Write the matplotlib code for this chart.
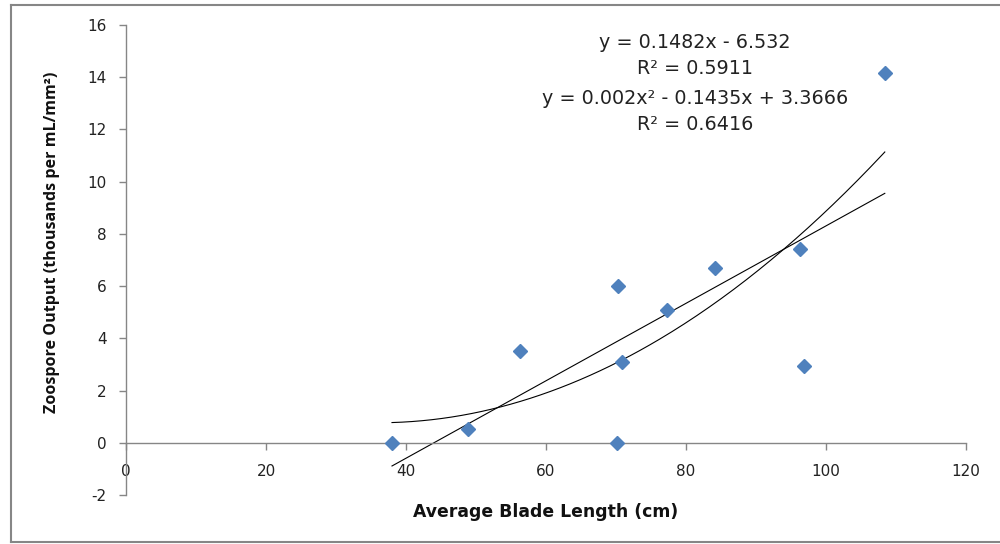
import numpy as np
import matplotlib.pyplot as plt
from matplotlib.lines import Line2D

# data
blade_length = [38.0, 48.9, 56.3, 70.3, 70.9, 70.1, 77.3, 84.1, 96.3, 96.9, 108.4]
zoospore_out = [0.0, 0.54, 3.52, 6.0, 3.1, 0.0, 5.09, 6.7, 7.43, 2.95, 14.16]

eq_lines = ["y = 0.1482x - 6.532", "R\u00b2 = 0.5911",
            "y = 0.002x\u00b2 - 0.1435x + 3.3666", "R\u00b2 = 0.6416"]

plt.rcParams['font.family'] = ['DejaVu Sans']
plt.rcParams['axes.unicode_minus'] = False

fig = plt.figure(figsize=(10, 5.44), dpi=100)
ax = fig.add_axes([0.126, 0.090, 0.840, 0.864])

gray = '#868686'

# trendlines fitted to the points (linear and 2nd order)
lin_coef = np.polyfit(blade_length, zoospore_out, 1)
poly_coef = np.polyfit(blade_length, zoospore_out, 2)
xs = np.linspace(min(blade_length), max(blade_length), 200)
ax.plot(xs, np.polyval(lin_coef, xs), color='black', lw=0.8, zorder=2)
ax.plot(xs, np.polyval(poly_coef, xs), color='black', lw=0.8, zorder=2)
ax.plot(blade_length, zoospore_out, linestyle='none', marker='D', ms=7.2,
        color='#4F81BD', markeredgecolor='#4F81BD', zorder=3)

ax.set_xlim(0, 120)
ax.set_ylim(-2, 16)
ax.set_xticks(range(0, 121, 20))
ax.set_yticks(range(-2, 17, 2))

ax.spines['top'].set_visible(False)
ax.spines['right'].set_visible(False)
ax.spines['bottom'].set_position(('data', 0))
for s in ['left', 'bottom']:
    ax.spines[s].set_color(gray)
    ax.spines[s].set_linewidth(1.0)
ax.tick_params(axis='both', colors=gray, length=5, width=1.0, direction='out',
               labelcolor='#222222', labelsize=11)
ax.tick_params(axis='x', pad=10)
ax.tick_params(axis='y', pad=9)

ax.set_xlabel('Average Blade Length (cm)', fontsize=12.4, fontweight='bold',
              color='#111111')
ax.xaxis.set_label_coords(0.5, -0.017)
ax.set_ylabel('Zoospore Output (thousands per mL/mm\u00b2)', fontsize=11.6,
              fontweight='bold', color='#111111', family='Open Sans')
ax.yaxis.set_label_coords(-0.079, 0.538)

# trendline equations
eq_y = [43, 68, 98, 124]
for txt, py in zip(eq_lines, eq_y):
    fig.text(0.695, 1 - py / 544, txt, ha='center', va='center',
             fontsize=13.8, color='#222222')

# outer chart frame
fig.add_artist(Line2D([0.0105, 0.0105], [0.004, 0.990], color=gray, lw=1.5))
fig.add_artist(Line2D([0.0105, 1.0], [0.990, 0.990], color=gray, lw=1.5))
fig.add_artist(Line2D([0.0105, 1.0], [0.004, 0.004], color=gray, lw=1.5))

fig.savefig('out.png', dpi=100)
